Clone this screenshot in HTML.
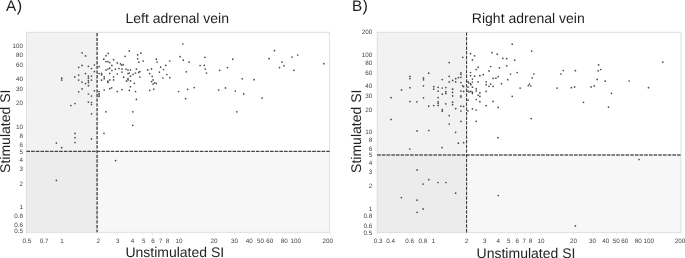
<!DOCTYPE html>
<html><head><meta charset="utf-8"><title>Adrenal vein SI</title>
<style>html,body{margin:0;padding:0;background:#fff;}body{width:685px;height:258px;overflow:hidden;}svg{display:block;}text{font-family:"Liberation Sans",sans-serif;text-rendering:geometricPrecision;}</style></head><body>
<svg style="will-change:transform;filter:grayscale(1)" width="685" height="258" viewBox="0 0 685 258">
<rect x="0" y="0" width="685" height="258" fill="#ffffff"/>
<rect x="26.4" y="32.3" width="70.60" height="118.90" fill="#f2f2f2"/>
<rect x="26.4" y="151.2" width="70.60" height="81.10" fill="#ebecec"/>
<rect x="97.0" y="151.2" width="232.60" height="81.10" fill="#f6f7f7"/>
<rect x="26.4" y="32.3" width="303.20" height="200.00" fill="none" stroke="#dcdcdc" stroke-width="0.9"/>
<line x1="26.44" y1="232.3" x2="26.44" y2="234.70000000000002" stroke="#e6e6e6" stroke-width="0.8"/>
<line x1="43.51" y1="232.3" x2="43.51" y2="234.70000000000002" stroke="#e6e6e6" stroke-width="0.8"/>
<line x1="61.60" y1="232.3" x2="61.60" y2="234.70000000000002" stroke="#e6e6e6" stroke-width="0.8"/>
<line x1="96.76" y1="232.3" x2="96.76" y2="234.70000000000002" stroke="#e6e6e6" stroke-width="0.8"/>
<line x1="117.33" y1="232.3" x2="117.33" y2="234.70000000000002" stroke="#e6e6e6" stroke-width="0.8"/>
<line x1="131.92" y1="232.3" x2="131.92" y2="234.70000000000002" stroke="#e6e6e6" stroke-width="0.8"/>
<line x1="143.24" y1="232.3" x2="143.24" y2="234.70000000000002" stroke="#e6e6e6" stroke-width="0.8"/>
<line x1="152.49" y1="232.3" x2="152.49" y2="234.70000000000002" stroke="#e6e6e6" stroke-width="0.8"/>
<line x1="160.31" y1="232.3" x2="160.31" y2="234.70000000000002" stroke="#e6e6e6" stroke-width="0.8"/>
<line x1="167.08" y1="232.3" x2="167.08" y2="234.70000000000002" stroke="#e6e6e6" stroke-width="0.8"/>
<line x1="178.40" y1="232.3" x2="178.40" y2="234.70000000000002" stroke="#e6e6e6" stroke-width="0.8"/>
<line x1="213.56" y1="232.3" x2="213.56" y2="234.70000000000002" stroke="#e6e6e6" stroke-width="0.8"/>
<line x1="234.13" y1="232.3" x2="234.13" y2="234.70000000000002" stroke="#e6e6e6" stroke-width="0.8"/>
<line x1="248.72" y1="232.3" x2="248.72" y2="234.70000000000002" stroke="#e6e6e6" stroke-width="0.8"/>
<line x1="260.04" y1="232.3" x2="260.04" y2="234.70000000000002" stroke="#e6e6e6" stroke-width="0.8"/>
<line x1="269.29" y1="232.3" x2="269.29" y2="234.70000000000002" stroke="#e6e6e6" stroke-width="0.8"/>
<line x1="283.88" y1="232.3" x2="283.88" y2="234.70000000000002" stroke="#e6e6e6" stroke-width="0.8"/>
<line x1="295.20" y1="232.3" x2="295.20" y2="234.70000000000002" stroke="#e6e6e6" stroke-width="0.8"/>
<line x1="330.36" y1="232.3" x2="330.36" y2="234.70000000000002" stroke="#e6e6e6" stroke-width="0.8"/>
<line x1="35.69" y1="232.3" x2="35.69" y2="233.70000000000002" stroke="#e9e9e9" stroke-width="0.8"/>
<line x1="50.28" y1="232.3" x2="50.28" y2="233.70000000000002" stroke="#e9e9e9" stroke-width="0.8"/>
<line x1="56.26" y1="232.3" x2="56.26" y2="233.70000000000002" stroke="#e9e9e9" stroke-width="0.8"/>
<line x1="173.06" y1="232.3" x2="173.06" y2="233.70000000000002" stroke="#e9e9e9" stroke-width="0.8"/>
<line x1="277.11" y1="232.3" x2="277.11" y2="233.70000000000002" stroke="#e9e9e9" stroke-width="0.8"/>
<line x1="289.86" y1="232.3" x2="289.86" y2="233.70000000000002" stroke="#e9e9e9" stroke-width="0.8"/>
<line x1="25.099999999999998" y1="46.60" x2="26.4" y2="46.60" stroke="#e8e8e8" stroke-width="0.7"/>
<line x1="25.099999999999998" y1="54.42" x2="26.4" y2="54.42" stroke="#e8e8e8" stroke-width="0.7"/>
<line x1="25.099999999999998" y1="64.50" x2="26.4" y2="64.50" stroke="#e8e8e8" stroke-width="0.7"/>
<line x1="25.099999999999998" y1="78.71" x2="26.4" y2="78.71" stroke="#e8e8e8" stroke-width="0.7"/>
<line x1="25.099999999999998" y1="88.80" x2="26.4" y2="88.80" stroke="#e8e8e8" stroke-width="0.7"/>
<line x1="25.099999999999998" y1="103.01" x2="26.4" y2="103.01" stroke="#e8e8e8" stroke-width="0.7"/>
<line x1="25.099999999999998" y1="127.30" x2="26.4" y2="127.30" stroke="#e8e8e8" stroke-width="0.7"/>
<line x1="25.099999999999998" y1="135.12" x2="26.4" y2="135.12" stroke="#e8e8e8" stroke-width="0.7"/>
<line x1="25.099999999999998" y1="145.20" x2="26.4" y2="145.20" stroke="#e8e8e8" stroke-width="0.7"/>
<line x1="25.099999999999998" y1="151.59" x2="26.4" y2="151.59" stroke="#e8e8e8" stroke-width="0.7"/>
<line x1="25.099999999999998" y1="159.41" x2="26.4" y2="159.41" stroke="#e8e8e8" stroke-width="0.7"/>
<line x1="25.099999999999998" y1="169.50" x2="26.4" y2="169.50" stroke="#e8e8e8" stroke-width="0.7"/>
<line x1="25.099999999999998" y1="183.71" x2="26.4" y2="183.71" stroke="#e8e8e8" stroke-width="0.7"/>
<line x1="25.099999999999998" y1="208.00" x2="26.4" y2="208.00" stroke="#e8e8e8" stroke-width="0.7"/>
<line x1="25.099999999999998" y1="215.82" x2="26.4" y2="215.82" stroke="#e8e8e8" stroke-width="0.7"/>
<line x1="25.099999999999998" y1="225.90" x2="26.4" y2="225.90" stroke="#e8e8e8" stroke-width="0.7"/>
<line x1="25.099999999999998" y1="232.29" x2="26.4" y2="232.29" stroke="#e8e8e8" stroke-width="0.7"/>
<line x1="26.4" y1="151.35" x2="329.6" y2="151.35" stroke="#444" stroke-width="1.1" stroke-dasharray="3.6 1.085"/>
<line x1="97.1" y1="32.3" x2="97.1" y2="232.3" stroke="#555" stroke-width="1.5" stroke-dasharray="3.3 1.38" stroke-dashoffset="3.98"/>
<g fill="#4a4a4a">
<circle cx="82.1" cy="52.8" r="0.85"/>
<circle cx="85.5" cy="55.9" r="0.85"/>
<circle cx="61.7" cy="78.2" r="0.85"/>
<circle cx="61.7" cy="80.1" r="0.85"/>
<circle cx="74.8" cy="76.9" r="0.85"/>
<circle cx="78.7" cy="67.3" r="0.85"/>
<circle cx="82.1" cy="65.4" r="0.85"/>
<circle cx="78.7" cy="75.1" r="0.85"/>
<circle cx="78.7" cy="80.1" r="0.85"/>
<circle cx="82.1" cy="82.1" r="0.85"/>
<circle cx="85.5" cy="73.6" r="0.85"/>
<circle cx="85.5" cy="83.6" r="0.85"/>
<circle cx="88.4" cy="66.3" r="0.85"/>
<circle cx="88.4" cy="76.1" r="0.85"/>
<circle cx="88.4" cy="78.2" r="0.85"/>
<circle cx="88.4" cy="80.7" r="0.85"/>
<circle cx="88.4" cy="82.6" r="0.85"/>
<circle cx="88.4" cy="85.7" r="0.85"/>
<circle cx="91.5" cy="68.5" r="0.85"/>
<circle cx="91.5" cy="76.1" r="0.85"/>
<circle cx="91.5" cy="80.1" r="0.85"/>
<circle cx="94.4" cy="65" r="0.85"/>
<circle cx="94.4" cy="71.6" r="0.85"/>
<circle cx="82.1" cy="88.9" r="0.85"/>
<circle cx="94.4" cy="90.8" r="0.85"/>
<circle cx="78.7" cy="91.8" r="0.85"/>
<circle cx="88.4" cy="94" r="0.85"/>
<circle cx="91.5" cy="96" r="0.85"/>
<circle cx="88.4" cy="102.1" r="0.85"/>
<circle cx="91.5" cy="102.5" r="0.85"/>
<circle cx="91.5" cy="104.5" r="0.85"/>
<circle cx="75" cy="103.5" r="0.85"/>
<circle cx="70.9" cy="105.5" r="0.85"/>
<circle cx="91.5" cy="113.8" r="0.85"/>
<circle cx="75" cy="133.4" r="0.85"/>
<circle cx="75" cy="137.7" r="0.85"/>
<circle cx="75" cy="142.5" r="0.85"/>
<circle cx="91.5" cy="138.9" r="0.85"/>
<circle cx="56.4" cy="143.1" r="0.85"/>
<circle cx="61.7" cy="147.7" r="0.85"/>
<circle cx="56.4" cy="180.4" r="0.85"/>
<circle cx="129.3" cy="50.9" r="0.85"/>
<circle cx="108.2" cy="53.4" r="0.85"/>
<circle cx="106" cy="55.7" r="0.85"/>
<circle cx="103.8" cy="59.2" r="0.85"/>
<circle cx="106" cy="61.6" r="0.85"/>
<circle cx="107.9" cy="61.6" r="0.85"/>
<circle cx="109.8" cy="62.6" r="0.85"/>
<circle cx="113.6" cy="59.7" r="0.85"/>
<circle cx="117.3" cy="62.9" r="0.85"/>
<circle cx="111.9" cy="65.4" r="0.85"/>
<circle cx="120.5" cy="63.9" r="0.85"/>
<circle cx="121.7" cy="65.1" r="0.85"/>
<circle cx="123.2" cy="64.7" r="0.85"/>
<circle cx="125.1" cy="56.3" r="0.85"/>
<circle cx="99.1" cy="66.7" r="0.85"/>
<circle cx="109.8" cy="68.2" r="0.85"/>
<circle cx="107.9" cy="69.1" r="0.85"/>
<circle cx="106" cy="70.1" r="0.85"/>
<circle cx="111.9" cy="70.5" r="0.85"/>
<circle cx="115.5" cy="69.1" r="0.85"/>
<circle cx="119" cy="68.5" r="0.85"/>
<circle cx="122" cy="69.1" r="0.85"/>
<circle cx="126.1" cy="69.1" r="0.85"/>
<circle cx="128" cy="70.1" r="0.85"/>
<circle cx="130.5" cy="69.8" r="0.85"/>
<circle cx="136.4" cy="69.1" r="0.85"/>
<circle cx="137.7" cy="54.8" r="0.85"/>
<circle cx="140.9" cy="53.2" r="0.85"/>
<circle cx="137.7" cy="58.8" r="0.85"/>
<circle cx="138.9" cy="62.2" r="0.85"/>
<circle cx="143.1" cy="61.1" r="0.85"/>
<circle cx="147.7" cy="69.9" r="0.85"/>
<circle cx="151.5" cy="68.9" r="0.85"/>
<circle cx="156.3" cy="59.2" r="0.85"/>
<circle cx="157.1" cy="62" r="0.85"/>
<circle cx="160.7" cy="67.2" r="0.85"/>
<circle cx="163.5" cy="69.5" r="0.85"/>
<circle cx="165.7" cy="65.4" r="0.85"/>
<circle cx="169.8" cy="61" r="0.85"/>
<circle cx="180.1" cy="56.7" r="0.85"/>
<circle cx="99.1" cy="73.6" r="0.85"/>
<circle cx="101.6" cy="73.4" r="0.85"/>
<circle cx="101.6" cy="74.9" r="0.85"/>
<circle cx="104.2" cy="76.8" r="0.85"/>
<circle cx="104.2" cy="78.7" r="0.85"/>
<circle cx="101.6" cy="80.2" r="0.85"/>
<circle cx="109.8" cy="73.4" r="0.85"/>
<circle cx="109.8" cy="79.9" r="0.85"/>
<circle cx="107.9" cy="81.2" r="0.85"/>
<circle cx="107.9" cy="82.4" r="0.85"/>
<circle cx="113.6" cy="76.8" r="0.85"/>
<circle cx="113.6" cy="79.9" r="0.85"/>
<circle cx="117.3" cy="74" r="0.85"/>
<circle cx="122" cy="72.1" r="0.85"/>
<circle cx="123.6" cy="77.2" r="0.85"/>
<circle cx="128" cy="73.6" r="0.85"/>
<circle cx="129.3" cy="73" r="0.85"/>
<circle cx="130.5" cy="76.2" r="0.85"/>
<circle cx="133" cy="74.3" r="0.85"/>
<circle cx="135.5" cy="73" r="0.85"/>
<circle cx="138.7" cy="72.4" r="0.85"/>
<circle cx="139.9" cy="71.6" r="0.85"/>
<circle cx="139.9" cy="77" r="0.85"/>
<circle cx="128" cy="78.7" r="0.85"/>
<circle cx="128" cy="79.9" r="0.85"/>
<circle cx="126.5" cy="81.2" r="0.85"/>
<circle cx="130.5" cy="80.9" r="0.85"/>
<circle cx="134.3" cy="83.3" r="0.85"/>
<circle cx="130.5" cy="86.8" r="0.85"/>
<circle cx="129.3" cy="90.3" r="0.85"/>
<circle cx="135.5" cy="91.5" r="0.85"/>
<circle cx="122" cy="89.6" r="0.85"/>
<circle cx="117.3" cy="91.5" r="0.85"/>
<circle cx="109.8" cy="88.7" r="0.85"/>
<circle cx="111.7" cy="87.8" r="0.85"/>
<circle cx="104.2" cy="90" r="0.85"/>
<circle cx="99.1" cy="91.5" r="0.85"/>
<circle cx="99.1" cy="93.7" r="0.85"/>
<circle cx="99.1" cy="95" r="0.85"/>
<circle cx="99.1" cy="96.5" r="0.85"/>
<circle cx="136.4" cy="99.4" r="0.85"/>
<circle cx="149.7" cy="73.6" r="0.85"/>
<circle cx="152.2" cy="76.4" r="0.85"/>
<circle cx="153.1" cy="79.9" r="0.85"/>
<circle cx="151.6" cy="81.6" r="0.85"/>
<circle cx="153.1" cy="84.1" r="0.85"/>
<circle cx="154.6" cy="82.8" r="0.85"/>
<circle cx="156.3" cy="83.4" r="0.85"/>
<circle cx="149.7" cy="90.3" r="0.85"/>
<circle cx="153.8" cy="89.1" r="0.85"/>
<circle cx="159.4" cy="72.1" r="0.85"/>
<circle cx="162.9" cy="78" r="0.85"/>
<circle cx="166.9" cy="74.5" r="0.85"/>
<circle cx="169.8" cy="77.7" r="0.85"/>
<circle cx="178.6" cy="91.5" r="0.85"/>
<circle cx="106" cy="111.8" r="0.85"/>
<circle cx="132.8" cy="111.8" r="0.85"/>
<circle cx="132.8" cy="125.3" r="0.85"/>
<circle cx="104" cy="133.3" r="0.85"/>
<circle cx="115.6" cy="160.6" r="0.85"/>
<circle cx="182.9" cy="44" r="0.85"/>
<circle cx="183.2" cy="60.2" r="0.85"/>
<circle cx="189.1" cy="62.1" r="0.85"/>
<circle cx="200.1" cy="65.5" r="0.85"/>
<circle cx="204.3" cy="65.3" r="0.85"/>
<circle cx="204.9" cy="57.3" r="0.85"/>
<circle cx="232.8" cy="59.2" r="0.85"/>
<circle cx="227.5" cy="67.6" r="0.85"/>
<circle cx="205.2" cy="69" r="0.85"/>
<circle cx="206.5" cy="73" r="0.85"/>
<circle cx="186.3" cy="71.8" r="0.85"/>
<circle cx="219.6" cy="70.3" r="0.85"/>
<circle cx="242.2" cy="78.8" r="0.85"/>
<circle cx="254.1" cy="79.7" r="0.85"/>
<circle cx="187.6" cy="89.4" r="0.85"/>
<circle cx="194.2" cy="87.6" r="0.85"/>
<circle cx="218.7" cy="90.1" r="0.85"/>
<circle cx="225.5" cy="87.9" r="0.85"/>
<circle cx="235.3" cy="91" r="0.85"/>
<circle cx="243.7" cy="93.9" r="0.85"/>
<circle cx="185.6" cy="98.7" r="0.85"/>
<circle cx="262.1" cy="98.1" r="0.85"/>
<circle cx="236.8" cy="111.8" r="0.85"/>
<circle cx="274.5" cy="50.7" r="0.85"/>
<circle cx="269.1" cy="58.7" r="0.85"/>
<circle cx="282" cy="62.1" r="0.85"/>
<circle cx="283.9" cy="65.8" r="0.85"/>
<circle cx="279.5" cy="67.6" r="0.85"/>
<circle cx="292.1" cy="57" r="0.85"/>
<circle cx="297.7" cy="55" r="0.85"/>
<circle cx="323.8" cy="63.7" r="0.85"/>
<circle cx="293.9" cy="70.3" r="0.85"/>
</g>
<g font-size="6.3" fill="#454545">
<text x="26.94" y="243" text-anchor="middle">0.5</text>
<text x="44.01" y="243" text-anchor="middle">0.7</text>
<text x="62.10" y="243" text-anchor="middle">1</text>
<text x="98.26" y="243" text-anchor="middle">2</text>
<text x="117.83" y="243" text-anchor="middle">3</text>
<text x="132.42" y="243" text-anchor="middle">4</text>
<text x="143.74" y="243" text-anchor="middle">5</text>
<text x="152.99" y="243" text-anchor="middle">6</text>
<text x="160.81" y="243" text-anchor="middle">7</text>
<text x="167.58" y="243" text-anchor="middle">8</text>
<text x="178.90" y="243" text-anchor="middle">10</text>
<text x="214.06" y="243" text-anchor="middle">20</text>
<text x="234.63" y="243" text-anchor="middle">30</text>
<text x="249.22" y="243" text-anchor="middle">40</text>
<text x="260.54" y="243" text-anchor="middle">50</text>
<text x="269.79" y="243" text-anchor="middle">60</text>
<text x="284.38" y="243" text-anchor="middle">80</text>
<text x="295.70" y="243" text-anchor="middle">100</text>
<text x="327.86" y="243" text-anchor="middle">200</text>
<text x="23.00" y="48" text-anchor="end">100</text>
<text x="23.00" y="57" text-anchor="end">80</text>
<text x="23.00" y="67" text-anchor="end">60</text>
<text x="23.00" y="81" text-anchor="end">40</text>
<text x="23.00" y="91" text-anchor="end">30</text>
<text x="23.00" y="105" text-anchor="end">20</text>
<text x="23.00" y="129" text-anchor="end">10</text>
<text x="23.00" y="138" text-anchor="end">8</text>
<text x="23.00" y="147" text-anchor="end">6</text>
<text x="23.00" y="154" text-anchor="end">5</text>
<text x="23.00" y="162" text-anchor="end">4</text>
<text x="23.00" y="171" text-anchor="end">3</text>
<text x="23.00" y="186" text-anchor="end">2</text>
<text x="23.00" y="209" text-anchor="end">1</text>
<text x="23.00" y="218" text-anchor="end">0.8</text>
<text x="23.00" y="227" text-anchor="end">0.6</text>
<text x="23.00" y="233" text-anchor="end">0.5</text>
</g>
<g fill="#1f1f1f">
<text x="177.2" y="23.1" font-size="14" text-anchor="middle">Left adrenal vein</text>
<text x="174.8" y="257" font-size="14" text-anchor="middle">Unstimulated SI</text>
<text transform="translate(10.2,131.25) rotate(-90)" font-size="14" text-anchor="middle">Stimulated SI</text>
<text x="6.0" y="10.7" font-size="15.3">A<tspan dx="0.5" dy="0.3" font-size="16.3">)</tspan></text>
</g>
<rect x="377.2" y="32.3" width="89.20" height="122.70" fill="#f2f2f2"/>
<rect x="377.2" y="155.0" width="89.20" height="77.40" fill="#ebecec"/>
<rect x="466.4" y="155.0" width="214.50" height="77.40" fill="#f6f7f7"/>
<rect x="377.2" y="32.3" width="303.70" height="200.10" fill="none" stroke="#dcdcdc" stroke-width="0.9"/>
<line x1="377.41" y1="232.4" x2="377.41" y2="234.8" stroke="#e6e6e6" stroke-width="0.8"/>
<line x1="390.86" y1="232.4" x2="390.86" y2="234.8" stroke="#e6e6e6" stroke-width="0.8"/>
<line x1="409.82" y1="232.4" x2="409.82" y2="234.8" stroke="#e6e6e6" stroke-width="0.8"/>
<line x1="423.27" y1="232.4" x2="423.27" y2="234.8" stroke="#e6e6e6" stroke-width="0.8"/>
<line x1="433.70" y1="232.4" x2="433.70" y2="234.8" stroke="#e6e6e6" stroke-width="0.8"/>
<line x1="466.11" y1="232.4" x2="466.11" y2="234.8" stroke="#e6e6e6" stroke-width="0.8"/>
<line x1="485.06" y1="232.4" x2="485.06" y2="234.8" stroke="#e6e6e6" stroke-width="0.8"/>
<line x1="498.51" y1="232.4" x2="498.51" y2="234.8" stroke="#e6e6e6" stroke-width="0.8"/>
<line x1="508.94" y1="232.4" x2="508.94" y2="234.8" stroke="#e6e6e6" stroke-width="0.8"/>
<line x1="517.47" y1="232.4" x2="517.47" y2="234.8" stroke="#e6e6e6" stroke-width="0.8"/>
<line x1="524.67" y1="232.4" x2="524.67" y2="234.8" stroke="#e6e6e6" stroke-width="0.8"/>
<line x1="530.92" y1="232.4" x2="530.92" y2="234.8" stroke="#e6e6e6" stroke-width="0.8"/>
<line x1="541.35" y1="232.4" x2="541.35" y2="234.8" stroke="#e6e6e6" stroke-width="0.8"/>
<line x1="573.76" y1="232.4" x2="573.76" y2="234.8" stroke="#e6e6e6" stroke-width="0.8"/>
<line x1="592.71" y1="232.4" x2="592.71" y2="234.8" stroke="#e6e6e6" stroke-width="0.8"/>
<line x1="606.16" y1="232.4" x2="606.16" y2="234.8" stroke="#e6e6e6" stroke-width="0.8"/>
<line x1="616.59" y1="232.4" x2="616.59" y2="234.8" stroke="#e6e6e6" stroke-width="0.8"/>
<line x1="625.12" y1="232.4" x2="625.12" y2="234.8" stroke="#e6e6e6" stroke-width="0.8"/>
<line x1="638.57" y1="232.4" x2="638.57" y2="234.8" stroke="#e6e6e6" stroke-width="0.8"/>
<line x1="649.00" y1="232.4" x2="649.00" y2="234.8" stroke="#e6e6e6" stroke-width="0.8"/>
<line x1="681.41" y1="232.4" x2="681.41" y2="234.8" stroke="#e6e6e6" stroke-width="0.8"/>
<line x1="401.29" y1="232.4" x2="401.29" y2="233.8" stroke="#e9e9e9" stroke-width="0.8"/>
<line x1="417.02" y1="232.4" x2="417.02" y2="233.8" stroke="#e9e9e9" stroke-width="0.8"/>
<line x1="428.77" y1="232.4" x2="428.77" y2="233.8" stroke="#e9e9e9" stroke-width="0.8"/>
<line x1="536.42" y1="232.4" x2="536.42" y2="233.8" stroke="#e9e9e9" stroke-width="0.8"/>
<line x1="632.32" y1="232.4" x2="632.32" y2="233.8" stroke="#e9e9e9" stroke-width="0.8"/>
<line x1="644.07" y1="232.4" x2="644.07" y2="233.8" stroke="#e9e9e9" stroke-width="0.8"/>
<line x1="375.9" y1="32.15" x2="377.2" y2="32.15" stroke="#e8e8e8" stroke-width="0.7"/>
<line x1="375.9" y1="55.30" x2="377.2" y2="55.30" stroke="#e8e8e8" stroke-width="0.7"/>
<line x1="375.9" y1="62.75" x2="377.2" y2="62.75" stroke="#e8e8e8" stroke-width="0.7"/>
<line x1="375.9" y1="72.36" x2="377.2" y2="72.36" stroke="#e8e8e8" stroke-width="0.7"/>
<line x1="375.9" y1="85.90" x2="377.2" y2="85.90" stroke="#e8e8e8" stroke-width="0.7"/>
<line x1="375.9" y1="95.51" x2="377.2" y2="95.51" stroke="#e8e8e8" stroke-width="0.7"/>
<line x1="375.9" y1="109.05" x2="377.2" y2="109.05" stroke="#e8e8e8" stroke-width="0.7"/>
<line x1="375.9" y1="132.20" x2="377.2" y2="132.20" stroke="#e8e8e8" stroke-width="0.7"/>
<line x1="375.9" y1="139.65" x2="377.2" y2="139.65" stroke="#e8e8e8" stroke-width="0.7"/>
<line x1="375.9" y1="149.26" x2="377.2" y2="149.26" stroke="#e8e8e8" stroke-width="0.7"/>
<line x1="375.9" y1="155.35" x2="377.2" y2="155.35" stroke="#e8e8e8" stroke-width="0.7"/>
<line x1="375.9" y1="162.80" x2="377.2" y2="162.80" stroke="#e8e8e8" stroke-width="0.7"/>
<line x1="375.9" y1="172.41" x2="377.2" y2="172.41" stroke="#e8e8e8" stroke-width="0.7"/>
<line x1="375.9" y1="185.95" x2="377.2" y2="185.95" stroke="#e8e8e8" stroke-width="0.7"/>
<line x1="375.9" y1="209.10" x2="377.2" y2="209.10" stroke="#e8e8e8" stroke-width="0.7"/>
<line x1="375.9" y1="216.55" x2="377.2" y2="216.55" stroke="#e8e8e8" stroke-width="0.7"/>
<line x1="375.9" y1="226.16" x2="377.2" y2="226.16" stroke="#e8e8e8" stroke-width="0.7"/>
<line x1="375.9" y1="232.25" x2="377.2" y2="232.25" stroke="#e8e8e8" stroke-width="0.7"/>
<line x1="377.2" y1="155.05" x2="680.9" y2="155.05" stroke="#5a5a5a" stroke-width="1.6" stroke-dasharray="3.6 1.085"/>
<line x1="466.6" y1="32.3" x2="466.6" y2="232.4" stroke="#333" stroke-width="1.05" stroke-dasharray="3.45 1.23" stroke-dashoffset="4.58"/>
<g fill="#4a4a4a">
<circle cx="449.2" cy="62.6" r="0.85"/>
<circle cx="462.7" cy="57.3" r="0.85"/>
<circle cx="409.9" cy="76.4" r="0.85"/>
<circle cx="409.9" cy="78.6" r="0.85"/>
<circle cx="409.9" cy="87.7" r="0.85"/>
<circle cx="401.5" cy="89.9" r="0.85"/>
<circle cx="391.1" cy="97.7" r="0.85"/>
<circle cx="423.5" cy="77.9" r="0.85"/>
<circle cx="423.5" cy="79.8" r="0.85"/>
<circle cx="423.5" cy="85.8" r="0.85"/>
<circle cx="423.5" cy="97.8" r="0.85"/>
<circle cx="428.7" cy="73.2" r="0.85"/>
<circle cx="433.7" cy="86.7" r="0.85"/>
<circle cx="433.7" cy="89.2" r="0.85"/>
<circle cx="438.1" cy="87.3" r="0.85"/>
<circle cx="438.1" cy="91.1" r="0.85"/>
<circle cx="438.1" cy="97.6" r="0.85"/>
<circle cx="442.3" cy="79.6" r="0.85"/>
<circle cx="442.3" cy="88" r="0.85"/>
<circle cx="442.3" cy="94.2" r="0.85"/>
<circle cx="445.8" cy="87.6" r="0.85"/>
<circle cx="445.8" cy="91.7" r="0.85"/>
<circle cx="445.8" cy="93.4" r="0.85"/>
<circle cx="449.2" cy="76.4" r="0.85"/>
<circle cx="449.2" cy="81.9" r="0.85"/>
<circle cx="452.6" cy="80.4" r="0.85"/>
<circle cx="452.6" cy="89.2" r="0.85"/>
<circle cx="452.6" cy="92.4" r="0.85"/>
<circle cx="452.6" cy="95.9" r="0.85"/>
<circle cx="455.7" cy="78.7" r="0.85"/>
<circle cx="455.7" cy="81.9" r="0.85"/>
<circle cx="458.4" cy="77.7" r="0.85"/>
<circle cx="460.9" cy="72.9" r="0.85"/>
<circle cx="460.9" cy="74.5" r="0.85"/>
<circle cx="460.9" cy="77.3" r="0.85"/>
<circle cx="460.9" cy="82.6" r="0.85"/>
<circle cx="460.9" cy="91.1" r="0.85"/>
<circle cx="460.9" cy="95.9" r="0.85"/>
<circle cx="460.9" cy="97.1" r="0.85"/>
<circle cx="462.7" cy="85.8" r="0.85"/>
<circle cx="409.9" cy="101.5" r="0.85"/>
<circle cx="416.9" cy="101.8" r="0.85"/>
<circle cx="428.7" cy="106.2" r="0.85"/>
<circle cx="433.7" cy="105.5" r="0.85"/>
<circle cx="438.1" cy="101.8" r="0.85"/>
<circle cx="438.1" cy="103.4" r="0.85"/>
<circle cx="438.1" cy="105.5" r="0.85"/>
<circle cx="442.3" cy="109.7" r="0.85"/>
<circle cx="442.3" cy="111.2" r="0.85"/>
<circle cx="445.8" cy="103.8" r="0.85"/>
<circle cx="449.2" cy="115.6" r="0.85"/>
<circle cx="449.2" cy="124.1" r="0.85"/>
<circle cx="452.6" cy="102.2" r="0.85"/>
<circle cx="452.6" cy="104.7" r="0.85"/>
<circle cx="455.7" cy="108.7" r="0.85"/>
<circle cx="460.9" cy="106.2" r="0.85"/>
<circle cx="460.9" cy="111" r="0.85"/>
<circle cx="460.9" cy="121.4" r="0.85"/>
<circle cx="391.1" cy="119.4" r="0.85"/>
<circle cx="417.1" cy="130.9" r="0.85"/>
<circle cx="428.8" cy="130.5" r="0.85"/>
<circle cx="455.6" cy="132.3" r="0.85"/>
<circle cx="458.4" cy="143.2" r="0.85"/>
<circle cx="463.6" cy="142.7" r="0.85"/>
<circle cx="442.1" cy="147.6" r="0.85"/>
<circle cx="409.8" cy="149" r="0.85"/>
<circle cx="417.1" cy="169.9" r="0.85"/>
<circle cx="428.8" cy="179.7" r="0.85"/>
<circle cx="423.1" cy="184.1" r="0.85"/>
<circle cx="438" cy="182.5" r="0.85"/>
<circle cx="445.9" cy="182.5" r="0.85"/>
<circle cx="455.6" cy="193.2" r="0.85"/>
<circle cx="401.4" cy="197.6" r="0.85"/>
<circle cx="417.1" cy="200.2" r="0.85"/>
<circle cx="423.1" cy="208.9" r="0.85"/>
<circle cx="417.1" cy="212.3" r="0.85"/>
<circle cx="463.6" cy="86.6" r="0.85"/>
<circle cx="463.6" cy="91.4" r="0.85"/>
<circle cx="463.6" cy="106.4" r="0.85"/>
<circle cx="512.2" cy="44.2" r="0.85"/>
<circle cx="531.7" cy="51.1" r="0.85"/>
<circle cx="492.1" cy="52.7" r="0.85"/>
<circle cx="497.2" cy="54.2" r="0.85"/>
<circle cx="470.5" cy="53.7" r="0.85"/>
<circle cx="474.6" cy="55.8" r="0.85"/>
<circle cx="472.4" cy="59.9" r="0.85"/>
<circle cx="502.8" cy="58.3" r="0.85"/>
<circle cx="506.7" cy="58.7" r="0.85"/>
<circle cx="514.7" cy="60.2" r="0.85"/>
<circle cx="506.7" cy="65.8" r="0.85"/>
<circle cx="490.6" cy="66.5" r="0.85"/>
<circle cx="478.1" cy="67.4" r="0.85"/>
<circle cx="499.4" cy="67.8" r="0.85"/>
<circle cx="476.2" cy="69.6" r="0.85"/>
<circle cx="489" cy="70.9" r="0.85"/>
<circle cx="470.5" cy="72.5" r="0.85"/>
<circle cx="470.5" cy="75.6" r="0.85"/>
<circle cx="474.6" cy="76.2" r="0.85"/>
<circle cx="479.9" cy="75.7" r="0.85"/>
<circle cx="483.3" cy="74.7" r="0.85"/>
<circle cx="472.4" cy="79.1" r="0.85"/>
<circle cx="493.1" cy="78.4" r="0.85"/>
<circle cx="495.9" cy="78.2" r="0.85"/>
<circle cx="498.2" cy="76.6" r="0.85"/>
<circle cx="510.5" cy="74" r="0.85"/>
<circle cx="517.2" cy="72.5" r="0.85"/>
<circle cx="507.8" cy="79.7" r="0.85"/>
<circle cx="533.9" cy="74" r="0.85"/>
<circle cx="532.1" cy="77.8" r="0.85"/>
<circle cx="468" cy="81.6" r="0.85"/>
<circle cx="468.6" cy="82.8" r="0.85"/>
<circle cx="470.5" cy="83.7" r="0.85"/>
<circle cx="470.8" cy="84.7" r="0.85"/>
<circle cx="472.4" cy="82" r="0.85"/>
<circle cx="478.1" cy="81.8" r="0.85"/>
<circle cx="486.2" cy="81.8" r="0.85"/>
<circle cx="486.2" cy="84.7" r="0.85"/>
<circle cx="490.6" cy="84.1" r="0.85"/>
<circle cx="489" cy="86.3" r="0.85"/>
<circle cx="493.1" cy="86.3" r="0.85"/>
<circle cx="501.5" cy="83.7" r="0.85"/>
<circle cx="468" cy="87.2" r="0.85"/>
<circle cx="472.4" cy="87.2" r="0.85"/>
<circle cx="476.2" cy="88.9" r="0.85"/>
<circle cx="468" cy="91" r="0.85"/>
<circle cx="469" cy="91.9" r="0.85"/>
<circle cx="470.8" cy="91.4" r="0.85"/>
<circle cx="472.4" cy="92.2" r="0.85"/>
<circle cx="472.4" cy="93.5" r="0.85"/>
<circle cx="476.2" cy="91" r="0.85"/>
<circle cx="479.9" cy="92.9" r="0.85"/>
<circle cx="486.2" cy="91.4" r="0.85"/>
<circle cx="478.1" cy="95.1" r="0.85"/>
<circle cx="520.1" cy="88.1" r="0.85"/>
<circle cx="528.3" cy="85.6" r="0.85"/>
<circle cx="529.5" cy="84.1" r="0.85"/>
<circle cx="530.8" cy="86" r="0.85"/>
<circle cx="512.2" cy="96.3" r="0.85"/>
<circle cx="479.9" cy="96.4" r="0.85"/>
<circle cx="468" cy="100.2" r="0.85"/>
<circle cx="476.2" cy="99.5" r="0.85"/>
<circle cx="479.9" cy="101.7" r="0.85"/>
<circle cx="493.1" cy="101.4" r="0.85"/>
<circle cx="486.2" cy="105.6" r="0.85"/>
<circle cx="498.2" cy="107.4" r="0.85"/>
<circle cx="472.4" cy="108.9" r="0.85"/>
<circle cx="476.2" cy="110" r="0.85"/>
<circle cx="468" cy="110.8" r="0.85"/>
<circle cx="476.2" cy="121.3" r="0.85"/>
<circle cx="531.2" cy="118.6" r="0.85"/>
<circle cx="662.8" cy="62.1" r="0.85"/>
<circle cx="598.6" cy="64.9" r="0.85"/>
<circle cx="600.8" cy="69.5" r="0.85"/>
<circle cx="598.2" cy="70.7" r="0.85"/>
<circle cx="563.3" cy="70.5" r="0.85"/>
<circle cx="560.9" cy="74" r="0.85"/>
<circle cx="575.4" cy="70.7" r="0.85"/>
<circle cx="597.2" cy="79.4" r="0.85"/>
<circle cx="605.2" cy="81.2" r="0.85"/>
<circle cx="629.2" cy="81" r="0.85"/>
<circle cx="557.1" cy="88.1" r="0.85"/>
<circle cx="571.4" cy="87.7" r="0.85"/>
<circle cx="574.6" cy="86.9" r="0.85"/>
<circle cx="591.1" cy="86.9" r="0.85"/>
<circle cx="594.2" cy="85.9" r="0.85"/>
<circle cx="648.5" cy="87.7" r="0.85"/>
<circle cx="611.5" cy="93.3" r="0.85"/>
<circle cx="583.5" cy="102.3" r="0.85"/>
<circle cx="608.5" cy="107.1" r="0.85"/>
<circle cx="497.9" cy="137.7" r="0.85"/>
<circle cx="639.1" cy="159.5" r="0.85"/>
<circle cx="498.3" cy="195.5" r="0.85"/>
<circle cx="575.4" cy="225.9" r="0.85"/>
</g>
<g font-size="6.3" fill="#454545">
<text x="378.01" y="243" text-anchor="middle">0.3</text>
<text x="390.56" y="243" text-anchor="middle">0.4</text>
<text x="409.52" y="243" text-anchor="middle">0.6</text>
<text x="422.97" y="243" text-anchor="middle">0.8</text>
<text x="433.40" y="243" text-anchor="middle">1</text>
<text x="466.71" y="243" text-anchor="middle">2</text>
<text x="484.76" y="243" text-anchor="middle">3</text>
<text x="498.21" y="243" text-anchor="middle">4</text>
<text x="508.64" y="243" text-anchor="middle">5</text>
<text x="517.17" y="243" text-anchor="middle">6</text>
<text x="524.37" y="243" text-anchor="middle">7</text>
<text x="530.62" y="243" text-anchor="middle">8</text>
<text x="541.05" y="243" text-anchor="middle">10</text>
<text x="573.46" y="243" text-anchor="middle">20</text>
<text x="592.41" y="243" text-anchor="middle">30</text>
<text x="605.86" y="243" text-anchor="middle">40</text>
<text x="616.29" y="243" text-anchor="middle">50</text>
<text x="624.82" y="243" text-anchor="middle">60</text>
<text x="638.27" y="243" text-anchor="middle">80</text>
<text x="648.70" y="243" text-anchor="middle">100</text>
<text x="680.11" y="243" text-anchor="middle">200</text>
<text x="372.30" y="34" text-anchor="end">200</text>
<text x="372.30" y="57" text-anchor="end">100</text>
<text x="372.30" y="65" text-anchor="end">80</text>
<text x="372.30" y="75" text-anchor="end">60</text>
<text x="372.30" y="88" text-anchor="end">40</text>
<text x="372.30" y="98" text-anchor="end">30</text>
<text x="372.30" y="112" text-anchor="end">20</text>
<text x="372.30" y="134" text-anchor="end">10</text>
<text x="372.30" y="142" text-anchor="end">8</text>
<text x="372.30" y="151" text-anchor="end">6</text>
<text x="372.30" y="157" text-anchor="end">5</text>
<text x="372.30" y="165" text-anchor="end">4</text>
<text x="372.30" y="174" text-anchor="end">3</text>
<text x="372.30" y="188" text-anchor="end">2</text>
<text x="372.30" y="211" text-anchor="end">1</text>
<text x="372.30" y="218" text-anchor="end">0.8</text>
<text x="372.30" y="228" text-anchor="end">0.6</text>
<text x="372.30" y="235" text-anchor="end">0.5</text>
</g>
<g fill="#1f1f1f">
<text x="528.3" y="23.1" font-size="14" text-anchor="middle">Right adrenal vein</text>
<text x="526.0" y="257.5" font-size="14" text-anchor="middle">Unstimulated SI</text>
<text transform="translate(361.3,131.25) rotate(-90)" font-size="14" text-anchor="middle">Stimulated SI</text>
<text x="351.9" y="10.7" font-size="15.3">B<tspan dx="0.5" dy="0.3" font-size="16.3">)</tspan></text>
</g>
</svg></body></html>
